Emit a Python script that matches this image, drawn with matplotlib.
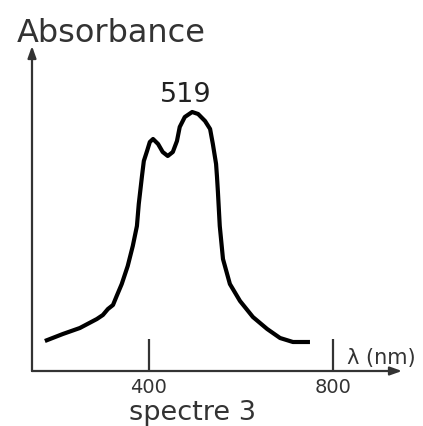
import matplotlib
matplotlib.use("Agg")
import matplotlib.pyplot as plt

# spectrum (nm, arbitrary absorbance)
wavelength = [174, 213, 250, 287, 300, 311, 322, 330, 341, 354, 365, 374, 378,
              385, 389, 396, 402, 409, 420, 430, 441, 452, 461, 467, 478, 494,
              507, 522, 533, 539, 546, 548, 550, 554, 561, 576, 598, 626, 657,
              685, 713, 750]
absorbance = [0.30, 0.37, 0.43, 0.52, 0.56, 0.62, 0.66, 0.75, 0.87, 1.05, 1.25,
              1.45, 1.67, 1.95, 2.10, 2.20, 2.29, 2.32, 2.27, 2.19, 2.15, 2.19,
              2.30, 2.44, 2.54, 2.59, 2.57, 2.50, 2.42, 2.27, 2.07, 1.94, 1.79,
              1.45, 1.12, 0.87, 0.70, 0.54, 0.42, 0.33, 0.29, 0.29]
tick_values = [400, 800]
tick_labels = ["400", "800"]
peak_label = "519"

W, H = 423, 427
fig = plt.figure(figsize=(W / 100, H / 100), dpi=100)
ax = fig.add_axes([32 / W, 1 - 372 / H, 370 / W, 325 / H])
ax.plot(wavelength, absorbance, color="black", lw=3.0,
        solid_joinstyle="round", solid_capstyle="butt")
ax.set_xlim(146, 950)
ax.set_ylim(0, 3.25)

for s in ax.spines.values():
    s.set_visible(False)
ax.set_yticks([])
ax.set_xticks(tick_values, tick_labels)
ax.tick_params(axis="x", direction="in", length=23, width=1.6, color="#333333",
               pad=4, labelsize=14, labelcolor="#333333")

arrow = dict(arrowstyle="-|>,head_length=0.7,head_width=0.25", lw=1.6,
             color="#333333", shrinkA=0, shrinkB=0)
ax.annotate("", xy=(1, 0), xytext=(0, 0), xycoords="axes fraction",
            arrowprops=arrow, annotation_clip=False)
ax.annotate("", xy=(0, 1), xytext=(0, 0), xycoords="axes fraction",
            arrowprops=arrow, annotation_clip=False)

ax.text(480, 2.77, peak_label, ha="center", va="center", fontsize=19.5,
        color="#222222")
fig.text(17 / W, 1 - 42 / H, "Absorbance", ha="left", va="baseline",
         fontsize=23, color="#333333")
fig.text(347 / W, 1 - 358 / H, "λ (nm)", ha="left", va="center",
         fontsize=15, color="#333333")
fig.text(129 / W, 1 - 420 / H, "spectre 3", ha="left", va="baseline",
         fontsize=19.5, color="#333333")

fig.savefig("out.png", dpi=100, facecolor="white")
